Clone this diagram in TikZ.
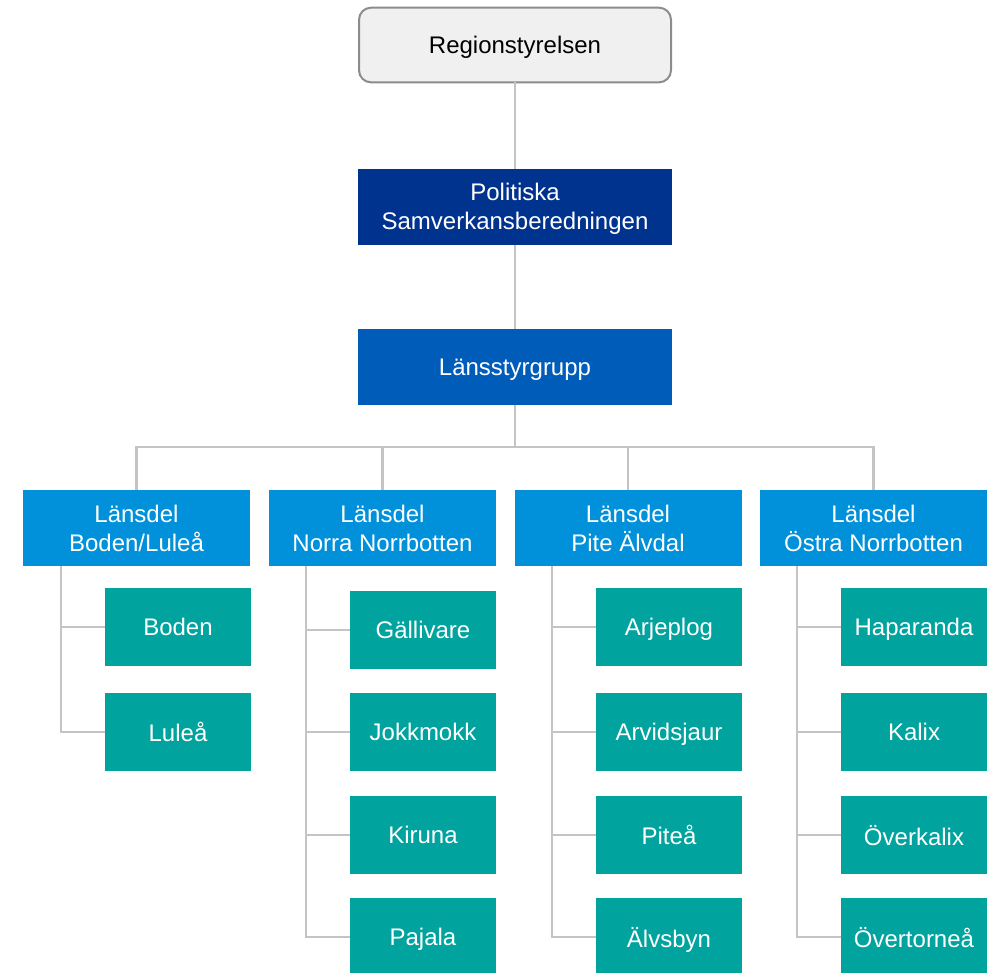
\documentclass[tikz,border=0pt]{standalone}
\usepackage{fontspec}
\setmainfont{Liberation Sans}
\definecolor{linegray}{HTML}{C4C4C4}
\definecolor{topfill}{HTML}{F0F0F0}
\definecolor{topborder}{HTML}{8C8C8C}
\definecolor{polblue}{HTML}{00338E}
\definecolor{lanblue}{HTML}{005CB9}
\definecolor{delblue}{HTML}{0091DA}
\definecolor{teal}{HTML}{00A39D}
\begin{document}
\begin{tikzpicture}[x=0.75pt,y=-0.75pt,
  every node/.style={font=\fontsize{18}{21.75}\selectfont, align=center, inner sep=0pt, outer sep=0pt},
  topbox/.style={fill=topfill, draw=topborder, line width=1.5pt, rounded corners=9pt, minimum width=234pt, minimum height=56pt, text depth=0pt},
  bigbox/.style={minimum width=235.5pt, minimum height=57pt, text=white, text depth=0pt},
  delbox/.style={fill=delblue, minimum width=170.25pt, minimum height=57pt, text=white},
  kombox/.style={fill=teal, minimum width=109.5pt, minimum height=58.5pt, text=white, text depth=0pt},
  conn/.style={draw=linegray, line width=1.8pt}]
\useasboundingbox (0,0) rectangle (989,972);
% top levels
\node[topbox] (reg) at (515,45) {Regionstyrelsen};
\node[bigbox, fill=polblue] (pol) at (515,206.5) {Politiska\\Samverkansberedningen};
\node[bigbox, fill=lanblue] (lan) at (515,367) {Länsstyrgrupp};
% Länsdel
\node[delbox] (d1) at (136.5,528) {Länsdel\\Boden/Luleå};
\node[delbox] (d2) at (382.5,528) {Länsdel\\Norra Norrbotten};
\node[delbox] (d3) at (628,528) {Länsdel\\Pite Älvdal};
\node[delbox] (d4) at (873.5,528) {Länsdel\\Östra Norrbotten};
% kommuner
\node[kombox] (boden) at (178,627) {Boden};
\node[kombox] (lulea) at (178,732) {Luleå};
\node[kombox] (gall) at (423,630) {Gällivare};
\node[kombox] (jokk) at (423,732) {Jokkmokk};
\node[kombox] (kir) at (423,835) {Kiruna};
\node[kombox] (paj) at (423,937) {Pajala};
\node[kombox] (arj) at (669,627) {Arjeplog};
\node[kombox] (arv) at (669,732) {Arvidsjaur};
\node[kombox] (pit) at (669,835) {Piteå};
\node[kombox] (alv) at (669,937) {Älvsbyn};
\node[kombox] (hap) at (914,627) {Haparanda};
\node[kombox] (kal) at (914,732) {Kalix};
\node[kombox] (okx) at (914,835) {Överkalix};
\node[kombox] (oto) at (914,937) {Övertorneå};
% connectors
\coordinate (bus) at (515,447);
\draw[conn] (reg.south) -- (pol.north);
\draw[conn] (pol.south) -- (lan.north);
\draw[conn] (lan.south) -- (bus);
\draw[conn] (d1.north) |- (bus);
\draw[conn] (d2.north) |- (bus);
\draw[conn] (d3.north) |- (bus);
\draw[conn] (d4.north) |- (bus);
\coordinate (c1) at (61,566);
\coordinate (c2) at (306,566);
\coordinate (c3) at (552,566);
\coordinate (c4) at (797,566);
\draw[conn] (c1) |- (boden.west);
\draw[conn] (c1) |- (lulea.west);
\draw[conn] (c2) |- (gall.west);
\draw[conn] (c2) |- (jokk.west);
\draw[conn] (c2) |- (kir.west);
\draw[conn] (c2) |- (paj.west);
\draw[conn] (c3) |- (arj.west);
\draw[conn] (c3) |- (arv.west);
\draw[conn] (c3) |- (pit.west);
\draw[conn] (c3) |- (alv.west);
\draw[conn] (c4) |- (hap.west);
\draw[conn] (c4) |- (kal.west);
\draw[conn] (c4) |- (okx.west);
\draw[conn] (c4) |- (oto.west);
\end{tikzpicture}
\end{document}
